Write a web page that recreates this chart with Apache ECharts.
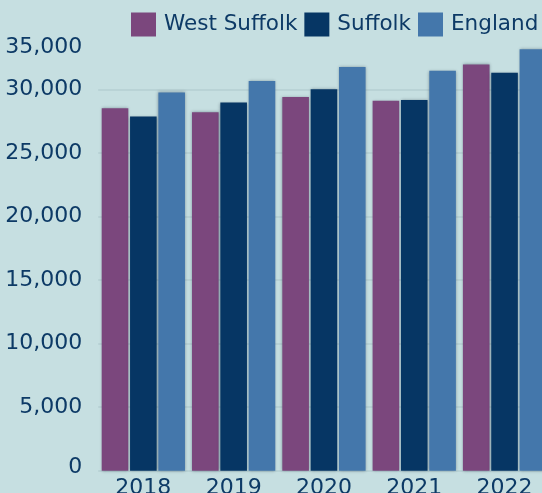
<!DOCTYPE html>
<html>
<head>
<meta charset="utf-8">
<script src="https://cdn.jsdelivr.net/npm/echarts@6/dist/echarts.min.js"></script>
<style>
html,body{margin:0;padding:0;background:#C6DFE1;overflow:hidden;}
#chart{width:542px;height:493px;}
</style>
</head>
<body>
<div id="chart"></div>
<script>
var categories = ['2018', '2019', '2020', '2021', '2022'];
var westSuffolk = [28500, 28200, 29400, 29100, 31950];
var suffolk = [27850, 28950, 30000, 29150, 31300];
var england = [29750, 30650, 31750, 31450, 33150];
var seriesNames = ['West Suffolk', 'Suffolk', 'England'];
var yTicks = [0, 5000, 10000, 15000, 20000, 25000, 30000, 35000];

var textColor = '#0D3A66';
var font = 'DejaVu Sans, Verdana, sans-serif';
var colors = ['#7B477D', '#063664', '#4477AB'];
var gridColor = '#B5CFD2';

var chart = echarts.init(document.getElementById('chart'), null, {renderer: 'canvas'});

function barSeries(name, data, color) {
  return {
    name: name,
    type: 'bar',
    data: data,
    barWidth: 26.6,
    barGap: '6.5%',
    itemStyle: {
      color: color,
      borderWidth: 0,
      shadowColor: 'rgba(0,20,40,0.35)',
      shadowBlur: 3
    },
    emphasis: {disabled: true}
  };
}

var splitColors = yTicks.map(function (v, i) {
  return i === yTicks.length - 1 ? 'rgba(0,0,0,0)' : gridColor;
});

chart.setOption({
  backgroundColor: '#C6DFE1',
  animation: false,
  color: colors,
  legend: {
    left: 131,
    top: 12.5,
    width: 600,
    padding: 0,
    itemWidth: 25,
    itemHeight: 24,
    itemGap: 7,
    icon: 'rect',
    textStyle: {color: textColor, fontFamily: font, fontSize: 21.5, padding: [0, 0, 0, 3]},
    data: seriesNames
  },
  grid: {left: 98.2, top: 25.7, width: 451.5, height: 445, containLabel: false, outerBoundsMode: 'none'},
  xAxis: {
    type: 'category',
    data: categories,
    axisLine: {show: false},
    axisTick: {show: false},
    axisLabel: {color: textColor, fontFamily: font, fontSize: 22, margin: 7}
  },
  yAxis: {
    type: 'value',
    min: yTicks[0],
    max: yTicks[yTicks.length - 1],
    interval: yTicks[1] - yTicks[0],
    axisLine: {show: false},
    axisTick: {show: false},
    splitLine: {lineStyle: {color: splitColors, width: 1.5}},
    axisLabel: {
      color: textColor, fontFamily: font, fontSize: 22, margin: 16,
      formatter: function (v) {
        var s = v.toLocaleString('en-US');
        if (v === yTicks[yTicks.length - 1]) return '{t|' + s + '}';
        if (v === 0) return '{b|' + s + '}';
        return s;
      },
      rich: {
        t: {color: textColor, fontFamily: font, fontSize: 22, padding: [44, 0, 0, 0]},
        b: {color: textColor, fontFamily: font, fontSize: 22, padding: [0, 0, 6, 0]}
      }
    }
  },
  series: [
    barSeries(seriesNames[0], westSuffolk, colors[0]),
    barSeries(seriesNames[1], suffolk, colors[1]),
    barSeries(seriesNames[2], england, colors[2])
  ]
});
</script>
</body>
</html>
